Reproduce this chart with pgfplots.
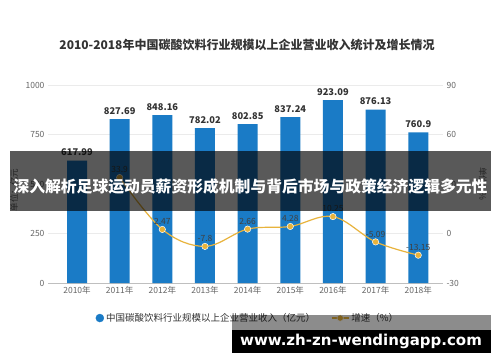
\documentclass[border=0pt]{standalone}
\usepackage{pgfplots}
\pgfplotsset{compat=1.18}
\usepackage{fontspec}
\setmainfont{Noto Sans CJK SC}
\newfontfamily\urlfont{DejaVu Sans}
\definecolor{barblue}{HTML}{1A7BC6}
\definecolor{linegold}{HTML}{E8B33C}
\definecolor{ticgray}{HTML}{666666}
\definecolor{txtdark}{HTML}{333333}
\begin{document}
\begin{tikzpicture}
\useasboundingbox (0pt,0pt) rectangle (500pt,362pt);
\fill[white] (0pt,0pt) rectangle (500pt,362pt);
\begin{axis}[
  at={(48pt,79pt)}, anchor=south west,
  scale only axis, width=395pt, height=198pt,
  xmin=-0.68, xmax=8.58, ymin=0, ymax=1000,
  xtick={0,...,8},
  xticklabels={2010年,2011年,2012年,2013年,2014年,2015年,2016年,2017年,2018年},
  ytick={0,250,500,750,1000},
  axis y line*=left, axis x line*=bottom,
  y axis line style={draw=none}, x axis line style={draw=black!25},
  major tick length=0pt,
  ymajorgrids, grid style={black!8},
  tick label style={font=\fontsize{8.5}{10}\selectfont, text=ticgray},
  /pgf/number format/assume math mode=true,
  /pgf/number format/.cd, use comma=false, 1000 sep={},
]
\addplot[ybar, bar width=20pt, fill=barblue, draw=none,
  nodes near coords, point meta=explicit symbolic,
  every node near coord/.append style={font=\bfseries\fontsize{9.3}{10}\selectfont, text=txtdark, yshift=1pt}]
  table[meta=lab] {
x y lab
0 617.99 617.99
1 827.69 827.69
2 848.16 848.16
3 782.02 782.02
4 802.85 802.85
5 837.24 837.24
6 923.09 923.09
7 876.13 876.13
8 760.9 760.9
};
\end{axis}
\begin{axis}[
  at={(48pt,79pt)}, anchor=south west,
  scale only axis, width=395pt, height=198pt,
  xmin=-0.68, xmax=8.58, ymin=-30, ymax=90,
  ytick={-30,0,30,60,90},
  axis y line*=right, axis x line=none,
  y axis line style={draw=none},
  major tick length=0pt,
  tick label style={font=\fontsize{8.5}{10}\selectfont, text=ticgray},
  /pgf/number format/assume math mode=true,
  legend style={at={(0.506,-0.177)}, anchor=center, draw=none, fill=none,
    legend columns=2, font=\fontsize{9.5}{11}\selectfont, text=txtdark,
    /tikz/every even column/.append style={column sep=14pt}},
]
\addlegendimage{legend image code/.code={\fill[barblue] (0.25cm,0) circle (4pt);}}
\addlegendentry{中国碳酸饮料行业规模以上企业营业收入（亿元）}
\addplot[linegold, line width=1.2pt, smooth, tension=0.6,
  mark=*, mark size=3.2pt, mark options={fill=linegold, draw=white, line width=0.5pt},
  nodes near coords, point meta=explicit symbolic,
  every node near coord/.append style={font=\fontsize{8.5}{10}\selectfont, text=black!75, yshift=1pt}]
  table[meta=lab] {
x y lab
1 33.9 33.9
2 2.47 2.47
3 -7.8 -7.8
4 2.66 2.66
5 4.28 4.28
6 10.25 10.25
7 -5.09 -5.09
8 -13.15 -13.15
};
\addlegendentry{增速（\%）}
\end{axis}
\node[font=\bfseries\fontsize{12}{14}\selectfont, text=txtdark] at (247pt,317pt) {2010-2018年中国碳酸饮料行业规模以上企业营业收入统计及增长情况};
\node[rotate=90, font=\fontsize{8.5}{10}\selectfont, text=ticgray] at (14pt,172pt) {单位：亿元};
\node[rotate=-90, font=\fontsize{8.5}{10}\selectfont, text=ticgray] at (483pt,178pt) {单位：\%};
\fill[black, opacity=0.65] (10pt,151pt) rectangle (491pt,211pt);
\node[font=\bfseries\fontsize{15.8}{18}\selectfont, text=white] at (250.5pt,176pt) {深入解析足球运动员薪资形成机制与背后市场与政策经济逻辑多元性};
\fill[black, opacity=0.45] (232pt,32pt) rectangle (491pt,47pt);
\fill[black] (232pt,9pt) rectangle (491pt,32pt);
\node[font=\urlfont\bfseries\fontsize{15}{17}\selectfont, text=white] at (361pt,21pt) {www.zh-zn-wendingapp.com};
\end{tikzpicture}
\end{document}
